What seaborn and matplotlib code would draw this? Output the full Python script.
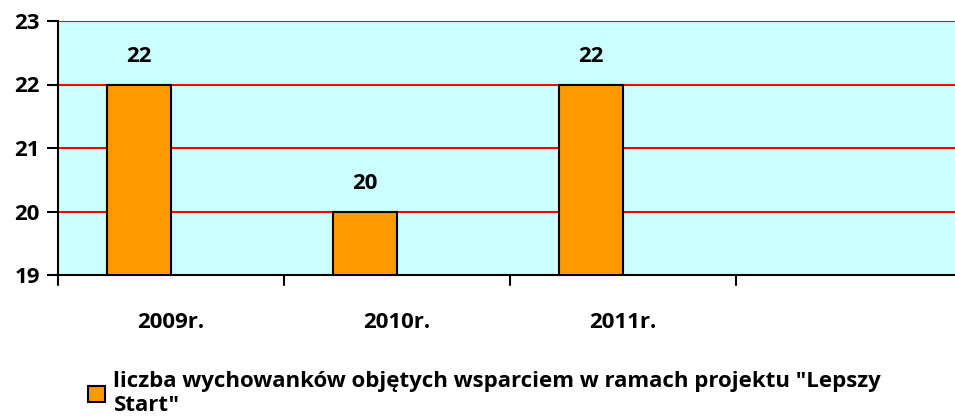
import pandas as pd
import matplotlib.pyplot as plt
import seaborn as sns

years = ['2009r.', '2010r.', '2011r.']
values = [22, 20, 22]
series_name = 'liczba wychowanków objętych wsparciem w ramach projektu "Lepszy\nStart"'

df = pd.DataFrame({'rok': years * 2,
                   'wartosc': values + [float('nan')] * 3,
                   'seria': [series_name] * 3 + ['_pusta'] * 3})

sns.set_style('white')
plt.rcParams['font.family'] = ['Open Sans', 'DejaVu Sans']
plt.rcParams['font.weight'] = 'bold'
plt.rcParams['text.color'] = 'black'
plt.rcParams['xtick.color'] = 'black'
plt.rcParams['ytick.color'] = 'black'
fs = 16

fig = plt.figure(figsize=(9.55, 4.18), dpi=100)
ax = fig.add_axes([58 / 955, 1 - 275 / 418, 1 - 58 / 955, (275 - 21) / 418])
ax.set_facecolor('#CCFFFF')

sns.barplot(data=df, x='rok', y='wartosc', hue='seria', ax=ax,
            palette=['#FF9900', '#FF9900'], saturation=1, width=0.566, dodge=True,
            edgecolor='black', linewidth=1.5, legend=False)

ax.set_ylim(19, 23)
ax.set_xlim(-0.5, -0.5 + 897 / 226)
ax.set_yticks([19, 20, 21, 22, 23])
ax.set_yticklabels(['19', '20', '21', '22', '23'], fontsize=fs, fontweight='bold')
for y in [20, 21, 22, 23]:
    ax.axhline(y, color='#FF0000', lw=1.5, zorder=0.5)

ax.set_xticks([0, 1, 2])
ax.set_xticklabels(years, fontsize=fs, fontweight='bold')
ax.tick_params(axis='x', length=0, pad=27)
ax.tick_params(axis='y', length=8, width=1.5, direction='out', left=True, pad=5)
for b in [-0.5, 0.5, 1.5, 2.5]:
    ax.plot([b, b], [-0.04, 0], transform=ax.get_xaxis_transform(),
            color='black', lw=1.5, clip_on=False)

ax.set_xlabel('')
ax.set_ylabel('')
for s in ['top', 'right']:
    ax.spines[s].set_visible(False)
for s in ['left', 'bottom']:
    ax.spines[s].set_color('black')
    ax.spines[s].set_linewidth(1.5)

bars = [p for p in ax.patches if p.get_height() == p.get_height() and p.get_height() > 0]
for p, v in zip(bars, values):
    ax.text(p.get_x() + p.get_width() / 2, v + 0.27, str(v),
            ha='center', va='bottom', fontsize=fs, fontweight='bold')

handle = plt.Rectangle((0, 0), 1, 1, facecolor='#FF9900', edgecolor='black', lw=1.5)
fig.legend([handle], [series_name], loc='upper left', bbox_to_anchor=(79 / 955, 1 - 362 / 418),
           frameon=False, prop={'weight': 'bold', 'size': fs},
           handlelength=0.75, handleheight=0.75, handletextpad=0.4, borderaxespad=0,
           labelspacing=0.1)

fig.savefig('out.png', dpi=100)
